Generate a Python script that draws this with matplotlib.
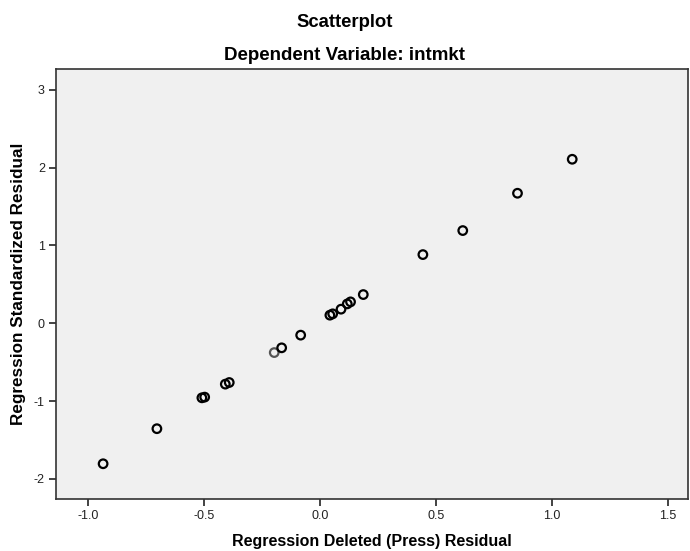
import matplotlib
matplotlib.use('Agg')
import matplotlib.pyplot as plt
import numpy as np

plt.rcParams['font.family'] = ['Liberation Sans', 'DejaVu Sans']
plt.rcParams['axes.unicode_minus'] = False

# deleted (press) residuals vs standardized residuals
press_resid = [-0.935, -0.703, -0.509, -0.497, -0.408, -0.391, -0.197, -0.165,
               -0.083, 0.043, 0.055, 0.091, 0.118, 0.132, 0.187,
               0.444, 0.616, 0.852, 1.088]
std_resid = [-1.807, -1.356, -0.959, -0.950, -0.783, -0.762, -0.377, -0.316,
             -0.153, 0.104, 0.121, 0.181, 0.249, 0.275, 0.369,
             0.883, 1.192, 1.672, 2.109]

x_ticks = [-1.0, -0.5, 0.0, 0.5, 1.0, 1.5]
y_ticks = [-2, -1, 0, 1, 2, 3]

fig = plt.figure(figsize=(6.9, 5.51), dpi=100)
ax = fig.add_axes([0.0812, 0.0944, 0.9158, 0.7804])
ax.set_facecolor('#f0f0f0')

edge = ['#000000'] * len(press_resid)
edge[6] = '#555555'
ax.scatter(press_resid, std_resid, s=38, facecolors='none', edgecolors=edge, linewidths=1.6, zorder=3)

ax.set_xlim(-1.138, 1.587)
ax.set_ylim(-2.26, 3.27)
ax.set_xticks(x_ticks)
ax.set_xticklabels(['%.1f' % t for t in x_ticks])
ax.set_yticks(y_ticks)
ax.tick_params(axis='both', direction='out', length=5, width=1.2, color='#222222',
               labelsize=9, labelcolor='#222222', pad=3)
for sp in ax.spines.values():
    sp.set_color('#333333')
    sp.set_linewidth(1.2)

ax.set_xlabel('Regression Deleted (Press) Residual', fontsize=11.5, fontweight='bold', va='center')
ax.xaxis.set_label_coords(0.5, -0.098)
ax.set_ylabel('Regression Standardized Residual', fontsize=12.3, fontweight='bold', va='center')
ax.yaxis.set_label_coords(-0.060, 0.5)
fig.text(0.5, 0.960, 'Scatterplot', ha='center', va='center', fontsize=13.3, fontweight='bold')
fig.text(0.5, 0.900, 'Dependent Variable: intmkt', ha='center', va='center', fontsize=13.5, fontweight='bold')

fig.savefig('out.png', dpi=100)
